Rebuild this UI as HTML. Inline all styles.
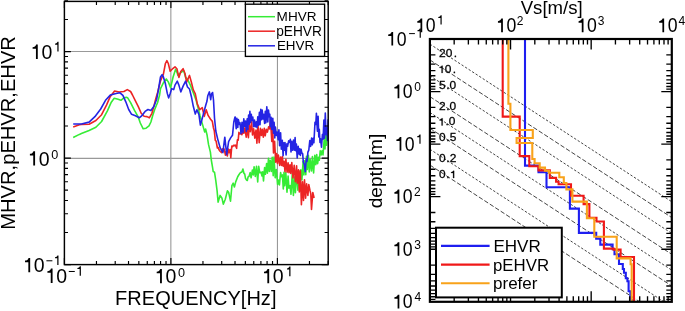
<!DOCTYPE html>
<html><head><meta charset="utf-8"><title>HVR and Vs profile</title><style>
html,body{margin:0;padding:0;background:#fff;}
svg{display:block;will-change:transform;}
text{font-family:"Liberation Sans", sans-serif;fill:#000;}
</style></head><body>
<svg width="685" height="311" viewBox="0 0 685 311">
<defs>
<clipPath id="lclip"><rect x="64.4" y="1.4" width="263.80" height="263.20"/></clipPath>
<clipPath id="rclip"><rect x="429.9" y="39.0" width="241.90" height="262.80"/></clipPath>
</defs>
<rect width="685" height="311" fill="#fff"/>
<line x1="170.85" y1="1.4" x2="170.85" y2="264.6" stroke="#999" stroke-width="1.1"/>
<line x1="277.45" y1="1.4" x2="277.45" y2="264.6" stroke="#999" stroke-width="1.1"/>
<line x1="64.4" y1="51.50" x2="328.2" y2="51.50" stroke="#999" stroke-width="1.1"/>
<line x1="64.4" y1="158.40" x2="328.2" y2="158.40" stroke="#999" stroke-width="1.1"/>
<g clip-path="url(#lclip)">
<path d="M73.2,137.5L79.4,134.4L81.4,133.6L89.1,130.4L95.9,127.3L101.6,121.5L107.4,110.9L111.3,102.2L114.2,98.3L118.1,99.3L120.9,100.3L123.9,97.9L126.8,97.3L127.7,97.9L130.6,102.7L134.5,110.4L138.3,117.2L140.3,123.0L143.2,128.8L146.1,128.2L149.0,125.9L150.9,122.0L152.8,115.3L154.7,109.5L157.6,102.5L159.6,95.0L160.5,88.6L163.4,82.8L166.3,79.0L168.3,81.9L170.6,87.6L173.1,77.0L175.6,69.3L177.3,73.2L177.9,75.4L180.8,72.5L183.7,70.6L185.6,77.4L187.5,79.3L190.4,85.1L193.3,92.8L196.2,100.5L198.2,108.3L200.1,116.0L202.7,125.1L204.7,131.9L205.6,129.0L207.0,134.7L208.5,144.4L210.4,152.1L211.3,160.0L212.6,167.7L213.2,171.6L214.5,172.2L215.8,180.6L217.1,190.9L218.1,202.1L220.1,195.4L222.0,198.3L223.3,204.1L225.3,199.2L227.4,190.9L228.6,192.2L230.5,201.2L231.9,185.7L233.2,183.2L234.4,187.0L235.7,181.9L237.7,176.7L238.9,174.8L240.2,172.9L240.6,172.5L241.9,171.9L242.9,169.0L244.0,173.5L244.7,173.9L245.5,178.3L246.6,180.1L247.3,180.5L248.1,176.9L249.1,176.3L250.2,172.6L251.1,177.8L252.4,170.0L253.3,174.9L254.1,166.7L255.3,176.5L256.5,166.3L257.7,181.9L258.7,166.4L259.8,172.8L261.1,172.2L261.9,175.9L262.7,171.8L263.5,181.0L264.6,167.5L265.4,174.3L266.6,163.6L267.4,173.2L268.5,158.4L269.3,171.5L270.2,160.3L271.3,171.4L272.2,157.4L273.2,175.7L274.0,157.1L275.2,177.8L276.3,169.5L277.6,184.4L278.6,180.0L279.4,184.9L280.6,172.5L281.4,176.8L282.4,174.9L283.3,189.0L284.0,172.4L284.7,185.7L285.8,172.5L287.0,192.3L288.1,176.0L288.9,188.1L290.0,185.5L291.0,194.3L292.3,173.4L293.4,195.5L294.5,177.1L295.4,192.8L296.7,172.3L297.9,190.1L298.8,171.1L299.6,185.2L300.8,169.7L301.9,180.0L303.1,161.3L303.9,174.9L304.7,160.9L305.8,174.8L306.5,156.2L307.3,169.5L308.4,155.3L309.3,172.0L310.2,159.6L311.5,171.0L312.4,156.5L313.6,172.9L314.8,155.2L315.8,164.7L316.7,154.6L317.6,163.6L318.6,157.4L319.3,160.3L320.2,150.7L321.2,154.9L322.0,150.8L323.0,154.9L324.2,139.2L325.0,149.0L325.7,129.7L326.5,145.1L327.6,129.8" fill="none" stroke="#36ec36" stroke-width="1.6" stroke-linejoin="round"/>
<path d="M73.2,126.9L79.4,124.8L81.4,124.5L89.1,124.2L95.9,120.5L101.6,114.7L106.5,105.1L110.3,96.4L114.6,91.0L119.0,92.0L123.9,91.5L127.3,89.6L130.6,91.5L132.5,95.0L135.4,100.8L138.3,106.6L141.2,113.3L144.1,116.2L147.0,116.6L149.3,117.8L151.9,113.3L153.8,106.6L155.7,98.9L157.6,92.5L160.5,80.9L163.4,74.1L165.4,63.5L166.9,60.6L168.3,63.5L170.2,71.2L173.1,68.3L175.0,66.8L176.9,68.7L178.9,77.4L180.8,71.6L183.1,68.7L185.0,73.5L186.6,82.2L189.5,75.4L191.4,82.2L193.3,89.9L195.3,93.8L197.3,103.9L199.8,109.7L202.3,107.7L204.3,116.4L206.2,109.7L208.1,115.4L210.4,119.0L212.0,121.0L212.3,121.2L213.4,127.7L214.3,130.8L215.3,140.3L216.1,141.0L217.4,148.0L218.1,147.4L219.0,149.7L220.3,151.5L221.6,152.6L222.3,148.8L223.1,151.0L224.3,149.1L225.4,155.1L226.1,151.7L227.4,155.9L228.3,149.0L229.1,152.6L230.1,149.6L230.8,157.7L231.8,146.0L232.7,146.6L233.6,145.3L234.5,145.8L235.3,145.0L236.6,148.3L237.4,139.9L238.2,140.1L238.9,132.4L239.8,134.0L240.9,133.5L241.9,134.7L243.0,130.6L243.9,133.2L244.9,127.9L246.2,137.1L247.4,128.4L248.4,137.6L249.2,124.8L250.3,131.6L251.6,121.8L252.5,135.0L253.6,128.7L254.8,138.2L256.0,130.0L256.9,143.1L258.0,125.4L259.2,142.6L260.4,128.3L261.4,135.5L262.3,129.3L263.3,137.1L264.3,128.4L265.2,135.8L266.3,129.3L267.4,132.1L268.6,126.9L269.6,129.0L270.5,119.7L271.8,141.5L272.7,127.2L273.5,152.9L274.6,141.3L275.7,162.1L276.6,153.5L277.5,163.5L278.4,155.0L279.7,165.5L280.6,157.1L281.6,165.5L282.4,156.6L283.2,166.2L284.1,161.2L285.0,171.7L285.9,159.2L287.1,172.2L288.1,162.7L289.0,172.7L290.0,164.8L290.8,173.5L291.8,162.6L293.0,177.9L294.2,165.3L295.4,181.6L296.6,165.9L297.3,183.1L298.5,169.7L299.3,192.0L300.3,170.7L301.4,204.8L302.5,181.8L303.5,200.5L304.5,179.8L305.6,198.1L306.6,183.9L307.9,195.5L308.8,184.6L310.0,190.5L310.8,193.7L311.5,209.5L312.8,192.5L314.1,198.0" fill="none" stroke="#ec2424" stroke-width="1.6" stroke-linejoin="round"/>
<path d="M73.2,124.0L81.4,124.0L89.1,122.1L94.9,116.7L100.7,109.0L105.5,100.3L110.3,95.1L116.1,93.5L120.0,92.8L122.9,95.4L125.8,101.8L128.7,109.5L131.6,114.3L135.4,115.8L139.3,117.8L142.2,115.3L145.1,111.4L148.0,109.5L150.9,110.4L153.8,106.6L155.7,101.8L156.7,99.2L158.6,88.6L160.5,77.0L162.1,74.7L163.4,77.0L165.4,83.8L167.3,93.4L168.6,97.9L170.2,93.4L171.7,88.6L173.7,89.6L175.0,85.1L177.3,81.2L178.9,85.1L180.8,91.9L183.1,86.1L185.6,81.2L187.5,87.0L189.5,89.0L191.4,96.7L193.3,106.3L195.3,114.1L196.9,109.7L198.9,114.5L200.4,125.1L202.3,118.3L204.3,110.6L205.6,105.8L207.0,101.0L207.8,95.7L209.4,91.9L210.7,99.6L211.5,94.0L212.6,92.5L213.5,100.0L214.5,118.0L215.8,131.0L217.7,139.1L220.3,148.2L222.9,152.7L224.8,137.2L226.7,154.6L228.6,141.7L230.6,137.9L232.5,135.3L233.8,122.0L235.0,117.0L235.3,117.2L236.2,128.6L236.9,118.4L237.8,127.5L238.4,119.6L239.4,124.4L240.0,122.7L241.0,133.8L242.0,122.4L243.0,132.4L243.8,118.9L244.6,126.1L245.5,121.0L246.3,131.5L247.2,118.7L247.9,129.4L248.6,115.1L249.3,124.2L249.9,111.2L250.5,122.5L251.3,114.3L251.9,120.5L252.8,117.1L253.6,126.7L254.5,120.0L255.3,126.8L256.3,121.9L257.0,127.6L257.8,116.9L258.5,125.3L259.4,112.4L260.0,124.6L260.8,109.4L261.6,119.8L262.2,110.0L263.0,119.0L263.8,114.3L264.6,123.5L265.3,111.2L265.9,122.7L266.8,106.8L267.8,121.9L268.5,110.1L269.2,116.8L269.8,114.4L270.3,126.6L271.1,117.3L271.8,129.4L272.8,118.4L273.5,133.1L274.1,122.2L274.8,138.0L275.4,127.1L276.4,135.4L277.2,132.0L278.2,139.6L278.9,129.7L279.6,145.8L280.6,132.8L281.3,149.2L282.3,140.4L283.1,155.6L283.8,142.7L284.4,150.1L285.0,142.6L286.1,154.9L286.9,143.9L287.6,146.3L288.7,140.7L289.6,142.5L290.3,139.4L291.0,151.9L291.7,141.2L292.5,150.3L293.5,140.1L294.3,150.2L295.1,137.5L295.7,150.7L296.4,144.1L297.2,157.9L298.2,146.3L299.2,154.1L299.8,148.8L300.4,155.4L301.1,149.2L301.8,152.9L302.7,153.9L303.3,162.0L304.3,164.4L305.3,171.6L306.2,159.0L307.0,161.5L307.9,152.1L308.8,150.1L309.8,140.5L310.6,146.4L311.6,138.0L312.3,144.8L313.2,138.2L313.9,142.8L315.0,122.3L315.8,124.4L316.4,113.3L317.4,131.1L318.1,116.2L318.8,136.9L319.3,129.2L320.0,142.5L320.6,138.8L321.5,147.1L322.4,134.6L323.1,139.2L323.9,120.0L324.5,138.2L325.3,113.0L326.1,134.6L326.8,127.6L327.5,140.4L328.1,119.9L328.9,133.7" fill="none" stroke="#2424e4" stroke-width="1.6" stroke-linejoin="round"/>
</g>
<path d="M64.40,264.6v-6.5M64.40,1.4v6.5M64.4,264.60h6.5M328.2,264.60h-6.5M96.46,264.6v-3.6M96.46,1.4v3.6M64.4,232.54h3.6M328.2,232.54h-3.6M115.21,264.6v-3.6M115.21,1.4v3.6M64.4,213.79h3.6M328.2,213.79h-3.6M128.52,264.6v-3.6M128.52,1.4v3.6M64.4,200.48h3.6M328.2,200.48h-3.6M138.84,264.6v-3.6M138.84,1.4v3.6M64.4,190.16h3.6M328.2,190.16h-3.6M147.27,264.6v-3.6M147.27,1.4v3.6M64.4,181.73h3.6M328.2,181.73h-3.6M154.40,264.6v-3.6M154.40,1.4v3.6M64.4,174.60h3.6M328.2,174.60h-3.6M160.58,264.6v-3.6M160.58,1.4v3.6M64.4,168.42h3.6M328.2,168.42h-3.6M166.03,264.6v-3.6M166.03,1.4v3.6M64.4,162.97h3.6M328.2,162.97h-3.6M170.90,264.6v-6.5M170.90,1.4v6.5M64.4,158.10h6.5M328.2,158.10h-6.5M202.96,264.6v-3.6M202.96,1.4v3.6M64.4,126.04h3.6M328.2,126.04h-3.6M221.71,264.6v-3.6M221.71,1.4v3.6M64.4,107.29h3.6M328.2,107.29h-3.6M235.02,264.6v-3.6M235.02,1.4v3.6M64.4,93.98h3.6M328.2,93.98h-3.6M245.34,264.6v-3.6M245.34,1.4v3.6M64.4,83.66h3.6M328.2,83.66h-3.6M253.77,264.6v-3.6M253.77,1.4v3.6M64.4,75.23h3.6M328.2,75.23h-3.6M260.90,264.6v-3.6M260.90,1.4v3.6M64.4,68.10h3.6M328.2,68.10h-3.6M267.08,264.6v-3.6M267.08,1.4v3.6M64.4,61.92h3.6M328.2,61.92h-3.6M272.53,264.6v-3.6M272.53,1.4v3.6M64.4,56.47h3.6M328.2,56.47h-3.6M277.40,264.6v-6.5M277.40,1.4v6.5M64.4,51.60h6.5M328.2,51.60h-6.5M309.46,264.6v-3.6M309.46,1.4v3.6M64.4,19.54h3.6M328.2,19.54h-3.6M328.21,264.6v-3.6M328.21,1.4v3.6M64.4,0.79h3.6M328.2,0.79h-3.6" stroke="#000" stroke-width="1.15" fill="none"/>
<rect x="64.4" y="1.4" width="263.80" height="263.20" fill="none" stroke="#000" stroke-width="1.45"/>
<rect x="245.4" y="4.2" width="79.2" height="52.2" fill="#fff" stroke="#000" stroke-width="1.35"/>
<line x1="248" y1="16.7" x2="275" y2="16.7" stroke="#36ec36" stroke-width="1.5"/>
<line x1="248" y1="31.2" x2="275" y2="31.2" stroke="#ec2424" stroke-width="1.5"/>
<line x1="248" y1="45.8" x2="275" y2="45.8" stroke="#2424e4" stroke-width="1.5"/>
<text transform="translate(276.62,21.10) scale(1.006,1)" font-size="13.48">MHVR</text>
<text transform="translate(276.24,35.60) scale(0.973,1)" font-size="14.06">pEHVR</text>
<text transform="translate(276.93,50.00) scale(0.995,1)" font-size="13.48">EHVR</text>
<path d="M0.375,0L0.285,0L0.285,-0.495L0.12,-0.495L0.12,-0.575C0.21,-0.58 0.27,-0.62 0.295,-0.705L0.375,-0.705Z" vector-effect="non-scaling-stroke" transform="translate(30.16,58.90) scale(20.300,20.300)"/><text transform="translate(41.45,58.90) scale(0.960,1)" font-size="20.30">0</text>
<path d="M0.375,0L0.285,0L0.285,-0.495L0.12,-0.495L0.12,-0.575C0.21,-0.58 0.27,-0.62 0.295,-0.705L0.375,-0.705Z" vector-effect="non-scaling-stroke" transform="translate(53.47,51.40) scale(13.600,13.600)"/>
<path d="M0.375,0L0.285,0L0.285,-0.495L0.12,-0.495L0.12,-0.575C0.21,-0.58 0.27,-0.62 0.295,-0.705L0.375,-0.705Z" vector-effect="non-scaling-stroke" transform="translate(27.46,165.50) scale(20.300,20.300)"/><text transform="translate(38.75,165.50) scale(0.960,1)" font-size="20.30">0</text>
<text transform="translate(51.26,158.70) scale(0.930,1)" font-size="13.60">0</text>
<path d="M0.375,0L0.285,0L0.285,-0.495L0.12,-0.495L0.12,-0.575C0.21,-0.58 0.27,-0.62 0.295,-0.705L0.375,-0.705Z" vector-effect="non-scaling-stroke" transform="translate(22.56,272.20) scale(20.300,20.300)"/><text transform="translate(33.85,272.20) scale(0.960,1)" font-size="20.30">0</text>
<rect x="46.40" y="260.27" width="5.98" height="1.02"/><path d="M0.375,0L0.285,0L0.285,-0.495L0.12,-0.495L0.12,-0.575C0.21,-0.58 0.27,-0.62 0.295,-0.705L0.375,-0.705Z" vector-effect="non-scaling-stroke" transform="translate(53.39,265.10) scale(13.600,13.600)"/>
<path d="M0.375,0L0.285,0L0.285,-0.495L0.12,-0.495L0.12,-0.575C0.21,-0.58 0.27,-0.62 0.295,-0.705L0.375,-0.705Z" vector-effect="non-scaling-stroke" transform="translate(44.96,282.90) scale(20.300,20.300)"/><text transform="translate(56.25,282.90) scale(0.960,1)" font-size="20.30">0</text>
<rect x="68.80" y="270.97" width="5.98" height="1.02"/><path d="M0.375,0L0.285,0L0.285,-0.495L0.12,-0.495L0.12,-0.575C0.21,-0.58 0.27,-0.62 0.295,-0.705L0.375,-0.705Z" vector-effect="non-scaling-stroke" transform="translate(75.79,275.80) scale(13.600,13.600)"/>
<path d="M0.375,0L0.285,0L0.285,-0.495L0.12,-0.495L0.12,-0.575C0.21,-0.58 0.27,-0.62 0.295,-0.705L0.375,-0.705Z" vector-effect="non-scaling-stroke" transform="translate(154.26,283.30) scale(20.300,20.300)"/><text transform="translate(165.55,283.30) scale(0.960,1)" font-size="20.30">0</text>
<text transform="translate(177.96,276.60) scale(0.930,1)" font-size="13.60">0</text>
<path d="M0.375,0L0.285,0L0.285,-0.495L0.12,-0.495L0.12,-0.575C0.21,-0.58 0.27,-0.62 0.295,-0.705L0.375,-0.705Z" vector-effect="non-scaling-stroke" transform="translate(261.56,283.30) scale(20.300,20.300)"/><text transform="translate(272.85,283.30) scale(0.960,1)" font-size="20.30">0</text>
<path d="M0.375,0L0.285,0L0.285,-0.495L0.12,-0.495L0.12,-0.575C0.21,-0.58 0.27,-0.62 0.295,-0.705L0.375,-0.705Z" vector-effect="non-scaling-stroke" transform="translate(285.37,276.20) scale(13.600,13.600)"/>
<text transform="translate(115.10,305.30) scale(0.995,1)" font-size="20.14">FREQUENCY[Hz]</text>
<text transform="translate(15.4,229.71) rotate(-90) scale(1,1.014)" font-size="20.15">MHVR,pEHVR,EHVR</text>
<g clip-path="url(#rclip)">
<line x1="429.90" y1="44.09" x2="671.80" y2="201.77" stroke="#222" stroke-width="0.85" stroke-dasharray="2.4,1.8"/>
<line x1="429.90" y1="59.92" x2="671.80" y2="217.60" stroke="#222" stroke-width="0.85" stroke-dasharray="4.5,2"/>
<line x1="429.90" y1="75.74" x2="671.80" y2="233.42" stroke="#222" stroke-width="0.85" stroke-dasharray="2.4,1.8"/>
<line x1="429.90" y1="96.65" x2="671.80" y2="254.33" stroke="#222" stroke-width="0.85" stroke-dasharray="4.5,2"/>
<line x1="429.90" y1="112.48" x2="671.80" y2="270.16" stroke="#222" stroke-width="0.85" stroke-dasharray="2.4,1.8"/>
<line x1="429.90" y1="128.30" x2="671.80" y2="285.98" stroke="#222" stroke-width="0.85" stroke-dasharray="4.5,2"/>
<line x1="429.90" y1="149.21" x2="671.80" y2="306.89" stroke="#222" stroke-width="0.85" stroke-dasharray="2.4,1.8"/>
<line x1="429.90" y1="165.04" x2="671.80" y2="322.72" stroke="#222" stroke-width="0.85" stroke-dasharray="4.5,2"/>
</g>
<g stroke="#000" stroke-width="0.25"><text transform="translate(439.00,57.09) scale(1.170,1)" font-size="10.20">2</text><text transform="translate(445.64,57.09) scale(1.170,1)" font-size="10.20">0</text><text transform="translate(453.67,57.09) scale(1.170,1)" font-size="10.20">.</text></g>
<g stroke="#000" stroke-width="0.25"><path d="M0.375,0L0.285,0L0.285,-0.495L0.12,-0.495L0.12,-0.575C0.21,-0.58 0.27,-0.62 0.295,-0.705L0.375,-0.705Z" vector-effect="non-scaling-stroke" transform="translate(438.17,72.92) scale(11.934,10.200)"/><text transform="translate(444.80,72.92) scale(1.170,1)" font-size="10.20">0</text><text transform="translate(452.84,72.92) scale(1.170,1)" font-size="10.20">.</text></g>
<g stroke="#000" stroke-width="0.25"><text transform="translate(439.00,88.74) scale(1.170,1)" font-size="10.20">5</text><text transform="translate(446.24,88.74) scale(1.170,1)" font-size="10.20">.</text><text transform="translate(449.56,88.74) scale(1.170,1)" font-size="10.20">0</text></g>
<g stroke="#000" stroke-width="0.25"><text transform="translate(439.00,109.65) scale(1.170,1)" font-size="10.20">2</text><text transform="translate(446.24,109.65) scale(1.170,1)" font-size="10.20">.</text><text transform="translate(449.56,109.65) scale(1.170,1)" font-size="10.20">0</text></g>
<g stroke="#000" stroke-width="0.25"><path d="M0.375,0L0.285,0L0.285,-0.495L0.12,-0.495L0.12,-0.575C0.21,-0.58 0.27,-0.62 0.295,-0.705L0.375,-0.705Z" vector-effect="non-scaling-stroke" transform="translate(438.17,125.48) scale(11.934,10.200)"/><text transform="translate(445.40,125.48) scale(1.170,1)" font-size="10.20">.</text><text transform="translate(448.72,125.48) scale(1.170,1)" font-size="10.20">0</text></g>
<g stroke="#000" stroke-width="0.25"><text transform="translate(439.12,141.30) scale(1.170,1)" font-size="10.20">0</text><text transform="translate(446.36,141.30) scale(1.170,1)" font-size="10.20">.</text><text transform="translate(449.68,141.30) scale(1.170,1)" font-size="10.20">5</text></g>
<g stroke="#000" stroke-width="0.25"><text transform="translate(439.12,162.21) scale(1.170,1)" font-size="10.20">0</text><text transform="translate(446.36,162.21) scale(1.170,1)" font-size="10.20">.</text><text transform="translate(449.68,162.21) scale(1.170,1)" font-size="10.20">2</text></g>
<g stroke="#000" stroke-width="0.25"><text transform="translate(439.12,178.04) scale(1.170,1)" font-size="10.20">0</text><text transform="translate(446.36,178.04) scale(1.170,1)" font-size="10.20">.</text><path d="M0.375,0L0.285,0L0.285,-0.495L0.12,-0.495L0.12,-0.575C0.21,-0.58 0.27,-0.62 0.295,-0.705L0.375,-0.705Z" vector-effect="non-scaling-stroke" transform="translate(449.68,178.04) scale(11.934,10.200)"/></g>
<g clip-path="url(#rclip)" fill="none" stroke-width="2.1">
<path d="M525,39V165.6H538.5V172.2H546.5V187.3H569.9V208.6H578.9V232.9H596.2V238.6H600.3V244.6H612.6V249.2H614.5V254.3H619V264H622.8V269H624V272.8H625.8V278.2H627.4V281.3H628.6V291.3H630.4V299.8H632V302" stroke="#1e1ef0"/>
<path d="M502.7,39V116.6H519.7V156.1H529.3V166.3H538.5V170.4H549.8V177.9H556.1V181.7H558.6V184.3H571V195.8H583.6V204.1H589.4V217.7H596.5V221.5H603.9V248.6H613.6V249.6H620.6V257H634V302" stroke="#f01818"/>
<path d="M508.4,39V103.7H510.4V130H532.8V138H516.6V143H532.3V159H534.6V163.3H539.7V167.6H545V170.8H549V172.7H559.3V177.2H563.8V183H566.4V189.4H572.4V201.6H586.9V218.3H594.3V236.7H616.7V258.4H630.6V264.3H631.7V302" stroke="#f8a21a"/>
</g>
<path d="M429.90,39.0v10.5M429.90,301.8v-10.5M454.17,39.0v5.5M454.17,301.8v-5.5M468.37,39.0v5.5M468.37,301.8v-5.5M478.45,39.0v5.5M478.45,301.8v-5.5M486.26,39.0v5.5M486.26,301.8v-5.5M492.64,39.0v5.5M492.64,301.8v-5.5M498.04,39.0v5.5M498.04,301.8v-5.5M502.72,39.0v5.5M502.72,301.8v-5.5M506.84,39.0v5.5M506.84,301.8v-5.5M510.53,39.0v10.5M510.53,301.8v-10.5M534.81,39.0v5.5M534.81,301.8v-5.5M549.01,39.0v5.5M549.01,301.8v-5.5M559.08,39.0v5.5M559.08,301.8v-5.5M566.89,39.0v5.5M566.89,301.8v-5.5M573.28,39.0v5.5M573.28,301.8v-5.5M578.68,39.0v5.5M578.68,301.8v-5.5M583.35,39.0v5.5M583.35,301.8v-5.5M587.48,39.0v5.5M587.48,301.8v-5.5M591.17,39.0v10.5M591.17,301.8v-10.5M615.44,39.0v5.5M615.44,301.8v-5.5M629.64,39.0v5.5M629.64,301.8v-5.5M639.71,39.0v5.5M639.71,301.8v-5.5M647.53,39.0v5.5M647.53,301.8v-5.5M653.91,39.0v5.5M653.91,301.8v-5.5M659.31,39.0v5.5M659.31,301.8v-5.5M663.99,39.0v5.5M663.99,301.8v-5.5M668.11,39.0v5.5M668.11,301.8v-5.5M429.9,39.00h10.5M671.8,39.00h-10.5M429.9,54.82h5.5M671.8,54.82h-5.5M429.9,64.08h5.5M671.8,64.08h-5.5M429.9,70.64h5.5M671.8,70.64h-5.5M429.9,75.74h5.5M671.8,75.74h-5.5M429.9,79.90h5.5M671.8,79.90h-5.5M429.9,83.42h5.5M671.8,83.42h-5.5M429.9,86.47h5.5M671.8,86.47h-5.5M429.9,89.15h5.5M671.8,89.15h-5.5M429.9,91.56h10.5M671.8,91.56h-10.5M429.9,107.38h5.5M671.8,107.38h-5.5M429.9,116.64h5.5M671.8,116.64h-5.5M429.9,123.20h5.5M671.8,123.20h-5.5M429.9,128.30h5.5M671.8,128.30h-5.5M429.9,132.46h5.5M671.8,132.46h-5.5M429.9,135.98h5.5M671.8,135.98h-5.5M429.9,139.03h5.5M671.8,139.03h-5.5M429.9,141.71h5.5M671.8,141.71h-5.5M429.9,144.12h10.5M671.8,144.12h-10.5M429.9,159.94h5.5M671.8,159.94h-5.5M429.9,169.20h5.5M671.8,169.20h-5.5M429.9,175.76h5.5M671.8,175.76h-5.5M429.9,180.86h5.5M671.8,180.86h-5.5M429.9,185.02h5.5M671.8,185.02h-5.5M429.9,188.54h5.5M671.8,188.54h-5.5M429.9,191.59h5.5M671.8,191.59h-5.5M429.9,194.27h5.5M671.8,194.27h-5.5M429.9,196.68h10.5M671.8,196.68h-10.5M429.9,212.50h5.5M671.8,212.50h-5.5M429.9,221.76h5.5M671.8,221.76h-5.5M429.9,228.32h5.5M671.8,228.32h-5.5M429.9,233.42h5.5M671.8,233.42h-5.5M429.9,237.58h5.5M671.8,237.58h-5.5M429.9,241.10h5.5M671.8,241.10h-5.5M429.9,244.15h5.5M671.8,244.15h-5.5M429.9,246.83h5.5M671.8,246.83h-5.5M429.9,249.24h10.5M671.8,249.24h-10.5M429.9,265.06h5.5M671.8,265.06h-5.5M429.9,274.32h5.5M671.8,274.32h-5.5M429.9,280.88h5.5M671.8,280.88h-5.5M429.9,285.98h5.5M671.8,285.98h-5.5M429.9,290.14h5.5M671.8,290.14h-5.5M429.9,293.66h5.5M671.8,293.66h-5.5M429.9,296.71h5.5M671.8,296.71h-5.5M429.9,299.39h5.5M671.8,299.39h-5.5" stroke="#000" stroke-width="1.35" fill="none"/>
<rect x="429.9" y="39.0" width="241.90" height="262.80" fill="none" stroke="#000" stroke-width="2.2"/>
<rect x="436" y="227.7" width="125.8" height="69.7" fill="#fff" stroke="#000" stroke-width="2"/>
<line x1="441" y1="245.9" x2="489.6" y2="245.9" stroke="#1e1ef0" stroke-width="2.1"/>
<line x1="441" y1="264.6" x2="489.6" y2="264.6" stroke="#f01818" stroke-width="2.1"/>
<line x1="441" y1="283.3" x2="489.6" y2="283.3" stroke="#f8a21a" stroke-width="2.1"/>
<text transform="translate(493.44,251.50) scale(1.005,1)" font-size="16.96">EHVR</text>
<text transform="translate(493.02,270.50) scale(1.027,1)" font-size="16.38">pEHVR</text>
<text transform="translate(493.01,289.40) scale(1.028,1)" font-size="16.58">prefer</text>
<path d="M0.375,0L0.285,0L0.285,-0.495L0.12,-0.495L0.12,-0.575C0.21,-0.58 0.27,-0.62 0.295,-0.705L0.375,-0.705Z" vector-effect="non-scaling-stroke" transform="translate(414.97,32.30) scale(19.400,19.400)"/><text transform="translate(425.76,32.30) scale(0.910,1)" font-size="19.40">0</text>
<path d="M0.375,0L0.285,0L0.285,-0.495L0.12,-0.495L0.12,-0.575C0.21,-0.58 0.27,-0.62 0.295,-0.705L0.375,-0.705Z" vector-effect="non-scaling-stroke" transform="translate(436.72,24.60) scale(13.200,13.200)"/>
<path d="M0.375,0L0.285,0L0.285,-0.495L0.12,-0.495L0.12,-0.575C0.21,-0.58 0.27,-0.62 0.295,-0.705L0.375,-0.705Z" vector-effect="non-scaling-stroke" transform="translate(495.61,32.30) scale(19.400,19.400)"/><text transform="translate(506.39,32.30) scale(0.910,1)" font-size="19.40">0</text>
<text transform="translate(516.87,24.60) scale(0.910,1)" font-size="13.20">2</text>
<path d="M0.375,0L0.285,0L0.285,-0.495L0.12,-0.495L0.12,-0.575C0.21,-0.58 0.27,-0.62 0.295,-0.705L0.375,-0.705Z" vector-effect="non-scaling-stroke" transform="translate(576.24,32.30) scale(19.400,19.400)"/><text transform="translate(587.03,32.30) scale(0.910,1)" font-size="19.40">0</text>
<text transform="translate(597.64,24.60) scale(0.910,1)" font-size="13.20">3</text>
<path d="M0.375,0L0.285,0L0.285,-0.495L0.12,-0.495L0.12,-0.575C0.21,-0.58 0.27,-0.62 0.295,-0.705L0.375,-0.705Z" vector-effect="non-scaling-stroke" transform="translate(656.87,32.30) scale(19.400,19.400)"/><text transform="translate(667.66,32.30) scale(0.910,1)" font-size="19.40">0</text>
<text transform="translate(678.54,24.60) scale(0.910,1)" font-size="13.20">4</text>
<text transform="translate(520.71,13.50) scale(1.029,1)" font-size="18.08">Vs[m/s]</text>
<path d="M0.375,0L0.285,0L0.285,-0.495L0.12,-0.495L0.12,-0.575C0.21,-0.58 0.27,-0.62 0.295,-0.705L0.375,-0.705Z" vector-effect="non-scaling-stroke" transform="translate(385.87,45.60) scale(19.400,19.400)"/><text transform="translate(396.66,45.60) scale(0.910,1)" font-size="19.40">0</text>
<rect x="409.10" y="33.11" width="5.81" height="0.99"/><path d="M0.375,0L0.285,0L0.285,-0.495L0.12,-0.495L0.12,-0.575C0.21,-0.58 0.27,-0.62 0.295,-0.705L0.375,-0.705Z" vector-effect="non-scaling-stroke" transform="translate(415.88,37.80) scale(13.200,13.200)"/>
<path d="M0.375,0L0.285,0L0.285,-0.495L0.12,-0.495L0.12,-0.575C0.21,-0.58 0.27,-0.62 0.295,-0.705L0.375,-0.705Z" vector-effect="non-scaling-stroke" transform="translate(392.07,98.16) scale(19.400,19.400)"/><text transform="translate(402.86,98.16) scale(0.910,1)" font-size="19.40">0</text>
<text transform="translate(414.17,91.16) scale(0.910,1)" font-size="13.20">0</text>
<path d="M0.375,0L0.285,0L0.285,-0.495L0.12,-0.495L0.12,-0.575C0.21,-0.58 0.27,-0.62 0.295,-0.705L0.375,-0.705Z" vector-effect="non-scaling-stroke" transform="translate(394.07,150.72) scale(19.400,19.400)"/><text transform="translate(404.86,150.72) scale(0.910,1)" font-size="19.40">0</text>
<path d="M0.375,0L0.285,0L0.285,-0.495L0.12,-0.495L0.12,-0.575C0.21,-0.58 0.27,-0.62 0.295,-0.705L0.375,-0.705Z" vector-effect="non-scaling-stroke" transform="translate(415.62,143.72) scale(13.200,13.200)"/>
<path d="M0.375,0L0.285,0L0.285,-0.495L0.12,-0.495L0.12,-0.575C0.21,-0.58 0.27,-0.62 0.295,-0.705L0.375,-0.705Z" vector-effect="non-scaling-stroke" transform="translate(392.07,203.28) scale(19.400,19.400)"/><text transform="translate(402.86,203.28) scale(0.910,1)" font-size="19.40">0</text>
<text transform="translate(414.04,196.28) scale(0.910,1)" font-size="13.20">2</text>
<path d="M0.375,0L0.285,0L0.285,-0.495L0.12,-0.495L0.12,-0.575C0.21,-0.58 0.27,-0.62 0.295,-0.705L0.375,-0.705Z" vector-effect="non-scaling-stroke" transform="translate(392.07,255.84) scale(19.400,19.400)"/><text transform="translate(402.86,255.84) scale(0.910,1)" font-size="19.40">0</text>
<text transform="translate(414.17,248.84) scale(0.910,1)" font-size="13.20">3</text>
<path d="M0.375,0L0.285,0L0.285,-0.495L0.12,-0.495L0.12,-0.575C0.21,-0.58 0.27,-0.62 0.295,-0.705L0.375,-0.705Z" vector-effect="non-scaling-stroke" transform="translate(392.07,308.40) scale(19.400,19.400)"/><text transform="translate(402.86,308.40) scale(0.910,1)" font-size="19.40">0</text>
<text transform="translate(414.44,301.40) scale(0.910,1)" font-size="13.20">4</text>
<text transform="translate(381.7,208.37) rotate(-90) scale(1,0.971)" font-size="19.18">depth[m]</text>
</svg>
</body></html>
